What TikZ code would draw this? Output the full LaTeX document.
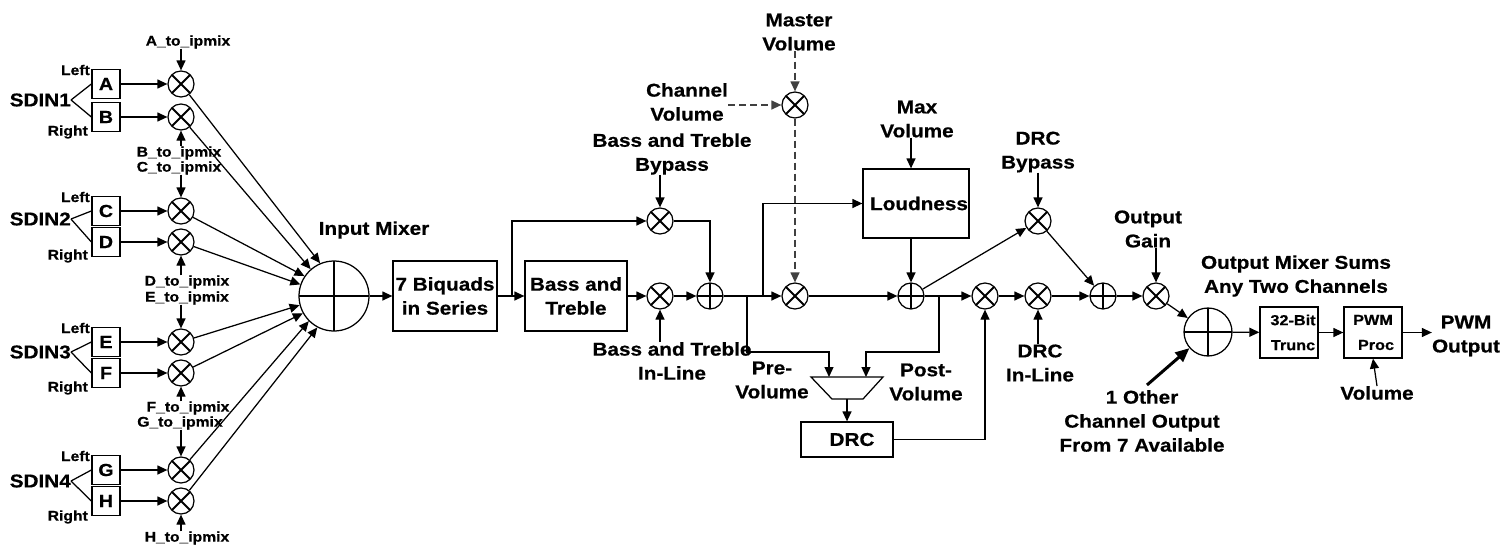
\documentclass[tikz,border=0pt]{standalone}
\usepackage{fontspec}
\setmainfont{Liberation Sans}[FakeStretch=1.12,FakeBold=0.6]
\usetikzlibrary{arrows.meta,calc}
\tikzset{
  ln/.style={line width=1.25pt},
  arr/.style={line width=1.25pt,-{Triangle[length=10pt,width=9pt]}},
  dsh/.style={draw=black!75,dash pattern=on 7pt off 4pt},
  big/.style={font=\fontsize{18.5}{24}\selectfont\bfseries,align=center,inner sep=0pt},
  small/.style={font=\fontsize{14}{15}\selectfont\bfseries,inner sep=0pt},
  inbox/.style={draw,line width=1.25pt,minimum width=28pt,minimum height=29pt,inner sep=0pt,font=\fontsize{17.5}{18}\selectfont\bfseries},
  box/.style={draw,line width=1.25pt,inner sep=0pt,align=center,font=\fontsize{18.5}{24}\selectfont\bfseries},
  sbox/.style={draw,line width=1.25pt,inner sep=0pt,align=center,minimum width=58pt,minimum height=51pt,font=\fontsize{14.5}{25}\selectfont\bfseries},
  mult/.style={circle,draw,line width=1.25pt,minimum size=26pt,inner sep=0pt,
    path picture={\draw[line width=1.8pt] (path picture bounding box.north west)--(path picture bounding box.south east)
      (path picture bounding box.north east)--(path picture bounding box.south west);}},
  sum/.style={circle,draw,line width=1.25pt,minimum size=26pt,inner sep=0pt,
    path picture={\draw[line width=1.8pt] (path picture bounding box.north)--(path picture bounding box.south)
      (path picture bounding box.east)--(path picture bounding box.west);}},
}
\begin{document}
\begin{tikzpicture}[x=1pt,y=-1pt]
\useasboundingbox (0,0) rectangle (1502,546);

% ---------------- input groups ----------------
\node[big,anchor=east] (s1) at (71,100) {SDIN1};
\node[big,anchor=east] (s2) at (71,219) {SDIN2};
\node[big,anchor=east] (s3) at (71,352) {SDIN3};
\node[big,anchor=east] (s4) at (71,481) {SDIN4};

\node[inbox] (bA) at (106,84) {A};
\node[inbox] (bB) at (106,117) {B};
\node[inbox] (bC) at (106,211) {C};
\node[inbox] (bD) at (106,242) {D};
\node[inbox] (bE) at (106,342) {E};
\node[inbox] (bF) at (106,373) {F};
\node[inbox] (bG) at (106,470) {G};
\node[inbox] (bH) at (106,501) {H};

\node[mult] (mA) at (181,84) {};
\node[mult] (mB) at (181,117) {};
\node[mult] (mC) at (181,211) {};
\node[mult] (mD) at (181,242) {};
\node[mult] (mE) at (181,342) {};
\node[mult] (mF) at (181,373) {};
\node[mult] (mG) at (181,470) {};
\node[mult] (mH) at (181,501) {};

\node[small,anchor=east] (lL1) at (90,70) {Left};
\node[small,anchor=east] (lR1) at (88,132) {Right};
\node[small,anchor=east] (lL2) at (90,197) {Left};
\node[small,anchor=east] (lR2) at (88,256) {Right};
\node[small,anchor=east] (lL3) at (90,328) {Left};
\node[small,anchor=east] (lR3) at (88,388) {Right};
\node[small,anchor=east] (lL4) at (90,456) {Left};
\node[small,anchor=east] (lR4) at (88,517) {Right};

\foreach \s/\u/\v in {s1/bA/bB,s2/bC/bD,s3/bE/bF,s4/bG/bH}{
  \draw[ln] (\s.east) -- (\u.west);
  \draw[ln] (\s.east) -- (\v.west);
}
\foreach \b/\m in {bA/mA,bB/mB,bC/mC,bD/mD,bE/mE,bF/mF,bG/mG,bH/mH}{
  \draw[arr] (\b) -- (\m);
}

\node[small] (cA) at (188,42) {A\_to\_ipmix};
\node[small] (cB) at (179,153) {B\_to\_ipmix};
\node[small] (cC) at (179,168) {C\_to\_ipmix};
\node[small] (cD) at (187,282) {D\_to\_ipmix};
\node[small] (cE) at (187,298) {E\_to\_ipmix};
\node[small] (cF) at (188,408) {F\_to\_ipmix};
\node[small] (cG) at (180,423) {G\_to\_ipmix};
\node[small] (cH) at (187,538) {H\_to\_ipmix};

\draw[arr] (cA.south -| mA) -- (mA);
\draw[arr] (cB.north -| mB) -- (mB);
\draw[arr] (cC.south -| mC) -- (mC);
\draw[arr] (cD.north -| mD) -- (mD);
\draw[arr] (cE.south -| mE) -- (mE);
\draw[arr] (cF.north -| mF) -- (mF);
\draw[arr] (cG.south -| mG) -- (mG);
\draw[arr] (cH.north -| mH) -- (mH);

% ---------------- input mixer ----------------
\node[sum,minimum size=70pt] (mix) at (334,296) {};
\node[big] (mixl) at (374,230) {Input Mixer};
\draw[arr] (mA) -- (mix.113);
\draw[arr] (mB) -- (mix.131);
\draw[arr] (mC) -- (mix.146);
\draw[arr] (mD) -- (mix.161);
\draw[arr] (mE) -- (mix.195);
\draw[arr] (mF) -- (mix.209);
\draw[arr] (mG) -- (mix.225);
\draw[arr] (mH) -- (mix.242);

% ---------------- channel processing ----------------
\node[box,minimum width=104pt,minimum height=70pt] (biq) at (445,296) {7 Biquads\\in Series};
\node[box,minimum width=102pt,minimum height=70pt] (bt) at (576,296) {Bass and\\Treble};
\node[mult] (btbyp) at (660,221) {};
\node[mult] (btin) at (660,296) {};
\node[sum] (sum1) at (710,296) {};
\node[mult] (mv) at (795,105) {};
\node[mult] (vol) at (795,296) {};
\node[box,minimum width=106pt,minimum height=69pt] (loud) at (916,203.5) {\hspace*{6pt}Loudness};
\node[sum] (sum2) at (911,296) {};
\node[box,minimum width=92pt,minimum height=35pt] (drc) at (847,439.5) {\hspace*{10pt}DRC};
\node[mult] (drcm) at (985,296) {};
\node[mult] (drcbyp) at (1038,221) {};
\node[mult] (drcin) at (1038,296) {};
\node[sum] (sum3) at (1103,296) {};
\node[mult] (og) at (1156,296) {};
\node[sum,minimum size=48pt] (omix) at (1208,332) {};
\node[sbox] (trunc) at (1289,332.5) {\hspace*{8pt}32-Bit\\\hspace*{8pt}Trunc};
\node[sbox] (pwm) at (1373,332.5) {PWM\\\hspace*{6pt}Proc};

% selector (trapezoid)
\draw[ln] (811,377) -- (883,377) -- (863,399) -- (832,399) -- cycle;
\coordinate (selT) at (847,377);
\coordinate (selB) at (847,399);

% labels
\node[big] (btbl) at (672,154) {Bass and Treble\\Bypass};
\node[big] (btil) at (672,361) {Bass and Treble\\In-Line};
\node[big] (chv) at (687,102) {Channel\\Volume};
\node[big] (mvl) at (799,32) {Master\\Volume};
\node[big] (mxl) at (917,119) {Max\\Volume};
\node[big] (prel) at (772,380) {Pre-\\Volume};
\node[big] (postl) at (926,382) {Post-\\Volume};
\node[big] (drbl) at (1038,152) {DRC\\Bypass};
\node[big] (dril) at (1040,363) {DRC\\In-Line};
\node[big] (ogl) at (1148,229) {Output\\Gain};
\node[big] (oml) at (1296,276) {Output Mixer Sums\\Any Two Channels};
\node[big] (oth) at (1142,421) {1 Other\\Channel Output\\From 7 Available};
\node[big] (voll) at (1377,393) {Volume};
\node[big] (pwml) at (1466,336) {PWM\\Output};

% connectors
\draw[arr] (mix) -- (biq);
\draw[arr] (biq) -- (bt);
\coordinate (bp0) at (512,296);
\draw[arr] (bp0) |- (btbyp);
\draw[arr] (bt) -- (btin);
\draw[arr] (btin) -- (sum1);
\draw[arr] (btbyp) -| (sum1);
\draw[arr] (btbl.south -| btbyp) -- (btbyp);
\draw[arr] (btil.north -| btin) -- (btin);
\draw[arr] (sum1) -- (vol);
\coordinate (bp1) at (747,296);
\coordinate (bp2) at (763,296);
\draw[arr] (bp2) |- (loud);
\draw[arr] (bp1) -- ++(0,56) -| ([xshift=-18pt]selT);
\draw[dsh,arr] (chv.east |- mv) -- (mv);
\draw[dsh,arr] (mvl.south -| mv) -- (mv);
\draw[dsh,arr] (mv) -- (vol);
\draw[arr] (mxl.south -| sum2) -- (loud.north -| sum2);
\draw[arr] (loud.south -| sum2) -- (sum2);
\draw[arr] (vol) -- (sum2);
\draw[arr] (sum2) -- (drcbyp);
\draw[arr] (sum2) -- (drcm);
\coordinate (bp3) at (939,296);
\draw[arr] (bp3) -- ++(0,56) -| ([xshift=19pt]selT);
\draw[arr] (selB) -- (drc);
\draw[arr] (drc) -| (drcm);
\draw[arr] (drcm) -- (drcin);
\draw[arr] (drcin) -- (sum3);
\draw[arr] (drcbyp) -- (sum3);
\draw[arr] (drbl.south -| drcbyp) -- (drcbyp);
\draw[arr] (dril.north -| drcin) -- (drcin);
\draw[arr] (sum3) -- (og);
\draw[arr] (ogl.south -| og) -- (og);
\draw[arr] (og) -- (omix);
\coordinate (othp) at (1147,385);
\draw[line width=3pt,-{Triangle[length=14pt,width=12pt]}] (othp) -- (omix);
\draw[arr] (omix) -- (trunc);
\draw[arr] (trunc) -- (pwm);
\draw[arr] (pwm) -- (pwml.west |- pwm);
\draw[arr] (voll.north) -- (pwm.south);
\end{tikzpicture}
\end{document}
